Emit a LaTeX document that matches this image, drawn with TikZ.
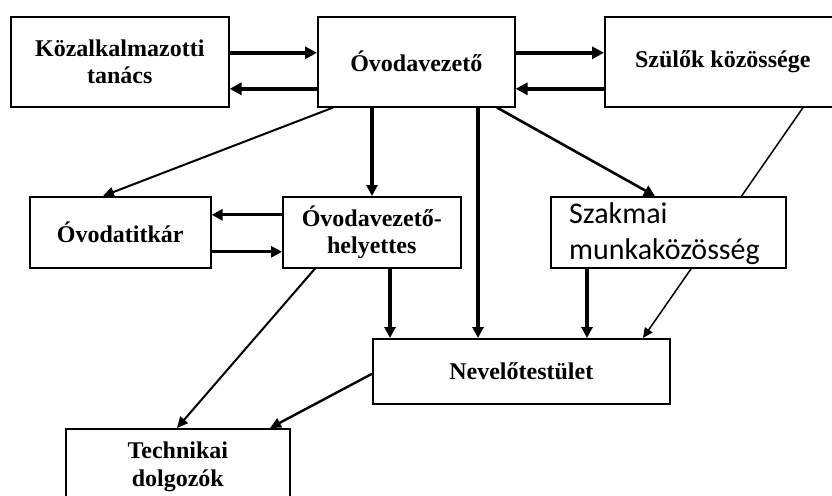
\documentclass[tikz,border=0pt]{standalone}
\usepackage{fontspec}
\setmainfont{Liberation Serif}
\newfontfamily\calib{Carlito}
\usetikzlibrary{arrows.meta}
\begin{document}
\begin{tikzpicture}[x=1pt,y=-1pt,
  box/.style={draw=black,line width=1.6pt,fill=white,inner sep=0pt,anchor=north west,align=center,
    font=\fontsize{24}{27.5}\selectfont\bfseries},
  bigarr/.style={line width=4.4pt,-{Triangle[length=12pt,width=12pt]}},
  vertarr/.style={line width=3.2pt,-{Triangle[length=11pt,width=11pt]}},
  diagarr/.style={line width=2pt,-{Triangle[length=11pt,width=10pt]}},
  thinarr/.style={line width=1.5pt,-{Triangle[length=10pt,width=9pt]}},
  plaintext/.style={inner sep=0pt,anchor=north west,align=left,font=\calib\fontsize{30}{36}\selectfont}
]
\useasboundingbox (0,0) rectangle (832,495);
\clip (0,0) rectangle (832,495);
\fill[white] (0,0) rectangle (832,495);

\node[box,minimum width=218pt,minimum height=90pt] (kozal) at (10,16) {Közalkalmazotti\\tanács};
\node[box,minimum width=197pt,minimum height=90pt] (ovez) at (317,16) {Óvodavezető};
\node[box,minimum width=236pt,minimum height=90pt] (szul) at (604,16) {Szülők közössége};
\node[box,minimum width=181pt,minimum height=71pt] (titk) at (29,196) {Óvodatitkár};
\node[box,minimum width=178pt,minimum height=71pt] (hely) at (282,196) {Óvodavezető-\\helyettes};
\node[box,minimum width=297pt,minimum height=65pt] (nev) at (372,338) {Nevelőtestület};
\node[box,minimum width=224pt,minimum height=76pt] (tech) at (65,428) {Technikai\\dolgozók};

% line behind the Szakmai box
\draw[thinarr] ([xshift=199pt]szul.south west) -- ([xshift=271pt]nev.north west);

\node[box,minimum width=235pt,minimum height=71pt] (szak) at (550,196) {};
\node[plaintext] (szaktext) at (569,202) {Szakmai\\munkaközösség};

% top row two-way arrows
\draw[bigarr] ([yshift=9pt]kozal.east) -- ([yshift=9pt]ovez.west);
\draw[bigarr] ([yshift=-27pt]ovez.west) -- ([yshift=-27pt]kozal.east);
\draw[bigarr] ([yshift=9pt]ovez.east) -- ([yshift=9pt]szul.west);
\draw[bigarr] ([yshift=-27pt]szul.west) -- ([yshift=-27pt]ovez.east);

% middle row two-way arrows
\draw[vertarr] ([yshift=17.5pt]hely.west) -- ([yshift=17.5pt]titk.east);
\draw[vertarr] ([yshift=-19.5pt]titk.east) -- ([yshift=-19.5pt]hely.west);

% from Óvodavezető
\draw[diagarr] ([xshift=16pt]ovez.south west) -- ([xshift=74pt]titk.north west);
\draw[vertarr] ([xshift=55pt]ovez.south west) -- ([xshift=90pt]hely.north west);
\draw[vertarr] ([xshift=161pt]ovez.south west) -- ([xshift=106pt]nev.north west);
\draw[line width=2.6pt,-{Triangle[length=11pt,width=11pt]}] ([xshift=180pt]ovez.south west) -- ([xshift=105pt]szak.north west);

% into Nevelőtestület
\draw[vertarr] ([xshift=108pt]hely.south west) -- ([xshift=18pt]nev.north west);
\draw[vertarr] ([xshift=37pt]szak.south west) -- ([xshift=215pt]nev.north west);

% into Technikai dolgozók
\draw[diagarr] ([xshift=33pt]hely.south west) -- ([xshift=112pt]tech.north west);
\draw[line width=2.4pt,-{Triangle[length=11pt,width=10pt]}] ([yshift=-2.5pt]nev.west) -- ([xshift=205pt]tech.north west);
\end{tikzpicture}
\end{document}
